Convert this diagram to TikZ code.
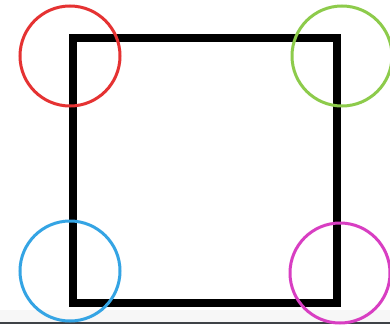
\documentclass[tikz,border=0pt]{standalone}
\definecolor{cred}{HTML}{E53232}
\definecolor{cgreen}{HTML}{8DCB4B}
\definecolor{cblue}{HTML}{34A4E4}
\definecolor{cmag}{HTML}{D83EC2}
\definecolor{bandgray}{HTML}{F7F7F7}
\definecolor{edgegray}{HTML}{3E4247}
\begin{document}
\begin{tikzpicture}[x=1pt,y=-1pt,
  ring/.style={draw=#1, line width=3pt, circle, minimum size=100pt, inner sep=0pt, outer sep=0pt},
  frame/.style={draw=black, line width=8pt, rectangle, inner sep=0pt, outer sep=0pt}]
\useasboundingbox[fill=white] (0,0) rectangle (390,324);
\fill[bandgray] (0,310) rectangle (390,322);
\fill[edgegray] (0,322) rectangle (390,324);
\node[frame, minimum width=264pt, minimum height=265pt] (sq) at (205,170.5) {};
\node[ring=cred] (red) at (70,56) {};
\node[ring=cgreen] (green) at (342,56) {};
\node[ring=cblue] (blue) at (70,271) {};
\node[ring=cmag] (mag) at (340,273) {};
\end{tikzpicture}
\end{document}
